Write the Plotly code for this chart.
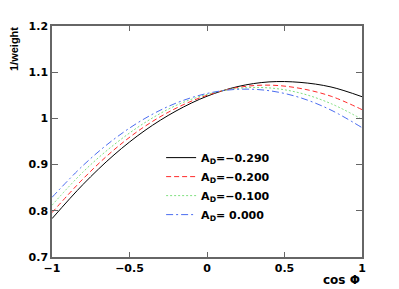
import plotly.graph_objects as go

cos_phi = [-1.0, -0.8, -0.6, -0.4, -0.2, 0.0, 0.2, 0.4, 0.6, 0.8, 1.0]
w_m290 = [0.783, 0.857, 0.921, 0.974, 1.016, 1.048, 1.069, 1.079, 1.078, 1.068, 1.047]
w_m200 = [0.796, 0.869, 0.932, 0.983, 1.022, 1.050, 1.067, 1.072, 1.065, 1.048, 1.019]
w_m100 = [0.812, 0.884, 0.943, 0.991, 1.028, 1.052, 1.065, 1.066, 1.055, 1.032, 0.998]
w_000 = [0.829, 0.898, 0.955, 1.000, 1.033, 1.054, 1.063, 1.060, 1.045, 1.018, 0.980]

labels = ["A<sub>D</sub>=\u22120.290", "A<sub>D</sub>=\u22120.200",
          "A<sub>D</sub>=\u22120.100", "A<sub>D</sub>= 0.000"]
series = [w_m290, w_m200, w_m100, w_000]
colors = ["#000000", "#ff2a2a", "#7fe07f", "#4a6cf0"]
dashes = ["solid", "5px,3px", "2px,2px", "7px,3px,2px,3px"]

x_ticks = [-1, -0.5, 0, 0.5, 1]
x_ticktext = ["\u22121", "\u22120.5", "0", "0.5", "1"]
y_ticks = [0.7, 0.8, 0.9, 1.0, 1.1, 1.2]
y_ticktext = ["0.7", "0.8", "0.9", "1", "1.1", "1.2"]

fig = go.Figure()
for ys, name, c, d in zip(series, labels, colors, dashes):
    fig.add_trace(go.Scatter(x=cos_phi, y=ys, mode="lines", name=name,
                             line=dict(color=c, width=1, dash=d, shape="spline")))

tickfont = dict(family="DejaVu Sans", size=11, color="black", weight="bold")
fig.update_layout(
    width=391, height=281,
    margin=dict(l=44, r=37, t=13, b=32),
    paper_bgcolor="white", plot_bgcolor="white",
    showlegend=True,
    legend=dict(x=0.352, y=0.493, xanchor="left", yanchor="top",
                bgcolor="rgba(0,0,0,0)", borderwidth=0,
                font=dict(family="DejaVu Sans", size=11, color="black", weight="bold"),
                tracegroupgap=0, itemwidth=30),
    xaxis=dict(range=[-1, 1], tickvals=x_ticks, ticktext=x_ticktext,
               showgrid=False, zeroline=False, showline=True, linecolor="#666",
               linewidth=1.5, mirror="ticks", ticks="inside", ticklen=5,
               tickcolor="#666", tickfont=tickfont),
    yaxis=dict(range=[0.7, 1.2], tickvals=y_ticks, ticktext=y_ticktext,
               showgrid=False, zeroline=False, showline=True, linecolor="#666",
               linewidth=1.5, mirror="ticks", ticks="inside", ticklen=6,
               tickcolor="#666", tickfont=tickfont),
    annotations=[
        dict(text="1/weight", xref="paper", yref="paper", x=-0.122, y=1.005,
             xanchor="center", yanchor="top", textangle=-90, showarrow=False,
             font=dict(family="Liberation Sans", size=11, color="black", weight=600)),
        dict(text="cos \u03a6", xref="paper", yref="paper", x=1.0, y=-0.06,
             xanchor="right", yanchor="top", showarrow=False,
             font=dict(family="DejaVu Sans", size=12, color="black", weight="bold")),
    ],
)
fig.write_html("out.html")
